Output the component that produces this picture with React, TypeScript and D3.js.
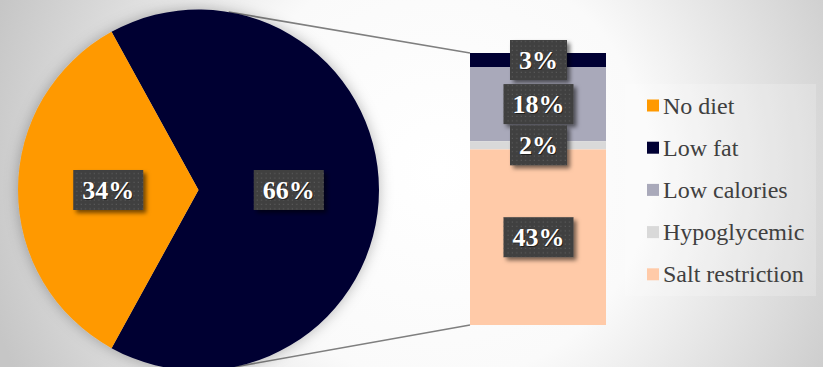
import React from "react";
import * as d3 from "d3";

const pieCategories = ["Diet", "No diet"];
const pieValues = [66, 34];
const pieLabels = ["66%", "34%"];

const barCategories = ["Low fat", "Low calories", "Hypoglycemic", "Salt restriction"];
const barValues = [3.4, 18.0, 2.0, 42.6];
const barLabels = ["3%", "18%", "2%", "43%"];

const legendCategories = ["No diet", "Low fat", "Low calories", "Hypoglycemic", "Salt restriction"];
const legendColors = ["#FF9900", "#000033", "#A9A9BA", "#D9D9D9", "#FFCAA8"];

const W = 823;
const H = 367;

export default function App() {
  const cx = 198.5, cy = 190, r = 180.5;
  const barX0 = 470, barX1 = 606, barTop = 53, barBottom = 325;

  const colorOf = (name: string) => legendColors[legendCategories.indexOf(name)];
  const pieColors = ["#000033", "#FF9900"];

  const total = d3.sum(pieValues);
  const fracNoDiet = pieValues[1] / total;
  const startAngle = -Math.PI / 2 + fracNoDiet * Math.PI;
  const pieGen = d3.pie<number>().sort(null).startAngle(startAngle).endAngle(startAngle + 2 * Math.PI);
  const arcs = pieGen(pieValues);
  const arcGen = d3.arc<d3.PieArcDatum<number>>().innerRadius(0).outerRadius(r);

  const barTotal = d3.sum(barValues);
  const y = d3.scaleLinear().domain([0, barTotal]).range([barTop, barBottom]);
  let acc = 0;
  const segs = barValues.map((v, i) => {
    const s = { y0: y(acc), y1: y(acc + v), name: barCategories[i], label: barLabels[i] };
    acc += v;
    return s;
  });

  const tangent = (px: number, py: number, upper: boolean) => {
    const dx = px - cx, dy = py - cy;
    const d = Math.hypot(dx, dy);
    const a = Math.atan2(dy, dx);
    const off = Math.acos(r / d);
    const t = upper ? a - off : a + off;
    return [cx + r * Math.cos(t), cy + r * Math.sin(t)];
  };
  const tUp = tangent(barX0, barTop, true);
  const tDn = tangent(barX0, barBottom, false);

  const fs = 26;
  const boxW = (label: string) => {
    const digits = label.replace("%", "").length;
    return fs * (digits * 0.5 + 1) + 18;
  };
  const boxH = 40;

  const boxes: { x: number; yc: number; label: string }[] = [];
  arcs.forEach((a, i) => {
    const [lx, ly] = arcGen.centroid(a);
    boxes.push({ x: cx + lx, yc: cy + ly, label: pieLabels[i] });
  });
  segs.forEach((s) => boxes.push({ x: (barX0 + barX1) / 2 + 0.5, yc: (s.y0 + s.y1) / 2, label: s.label }));

  const legendX = 647;
  const legendY0 = 105.5;
  const legendStep = 42.2;

  return (
    <svg width={W} height={H} style={{ position: "absolute", left: 0, top: 0 }}>
      <style>{`.sf { font-family: "Liberation Serif", "Times New Roman", serif !important; }`}</style>
      <defs>
        <radialGradient id="bg" gradientUnits="userSpaceOnUse" cx={440} cy={170} r={470}>
          <stop offset="0" stopColor="#ffffff" />
          <stop offset="0.45" stopColor="#fafafa" />
          <stop offset="1" stopColor="#c6c6c6" />
        </radialGradient>
        <pattern id="dots" width={4.4} height={4.4} patternUnits="userSpaceOnUse">
          <rect x={1.5} y={1.5} width={1.1} height={1.1} fill="#5e5e5e" />
        </pattern>
        <filter id="boxShadow" x="-30%" y="-30%" width="160%" height="160%">
          <feDropShadow dx={3} dy={3} stdDeviation={2.2} floodColor="#000" floodOpacity={0.55} />
        </filter>
        <filter id="pieShadow" x="-20%" y="-20%" width="140%" height="140%">
          <feDropShadow dx={0} dy={0} stdDeviation={7} floodColor="#000" floodOpacity={0.28} />
        </filter>
      </defs>
      <rect x={0} y={0} width={W} height={H} fill="url(#bg)" />

      <rect x={625} y={84} width={191} height={212} fill="#ffffff" opacity={0.2} />

      <line x1={tUp[0]} y1={tUp[1]} x2={barX0} y2={barTop} stroke="#7f7f7f" strokeWidth={1.6} />
      <line x1={tDn[0]} y1={tDn[1]} x2={barX0} y2={barBottom} stroke="#7f7f7f" strokeWidth={1.6} />

      <g transform={`translate(${cx},${cy})`} filter="url(#pieShadow)">
        {arcs.map((a, i) => (
          <path key={pieCategories[i]} d={arcGen(a) || ""} fill={pieColors[i]} />
        ))}
      </g>

      {segs.map((s) => (
        <rect key={s.name} x={barX0} y={s.y0} width={barX1 - barX0} height={s.y1 - s.y0} fill={colorOf(s.name)} />
      ))}

      {boxes.map((b, i) => {
        const w = boxW(b.label);
        return (
          <React.Fragment key={"box" + i}>
            <rect x={b.x - w / 2} y={b.yc - boxH / 2} width={w} height={boxH} fill="#404040" filter="url(#boxShadow)" />
            <rect x={b.x - w / 2} y={b.yc - boxH / 2} width={w} height={boxH} fill="url(#dots)" />
            <text className="sf" x={b.x + 1} y={b.yc + 10} textAnchor="middle" fontFamily="Liberation Serif" fontWeight="bold" fontSize={fs} fill="#000000" opacity={0.5}>
              {b.label}
            </text>
            <text className="sf" x={b.x} y={b.yc + 9} textAnchor="middle" fontFamily="Liberation Serif" fontWeight="bold" fontSize={fs} fill="#ffffff">
              {b.label}
            </text>
          </React.Fragment>
        );
      })}

      {legendCategories.map((name, i) => {
        const yc = legendY0 + i * legendStep;
        return (
          <React.Fragment key={"lg" + name}>
            <rect x={legendX} y={yc - 6} width={12} height={12} fill={legendColors[i]} />
            <text className="sf" x={legendX + 16} y={yc + 8} fontFamily="Liberation Serif" fontSize={24} fill="#404040">
              {name}
            </text>
          </React.Fragment>
        );
      })}
    </svg>
  );
}
